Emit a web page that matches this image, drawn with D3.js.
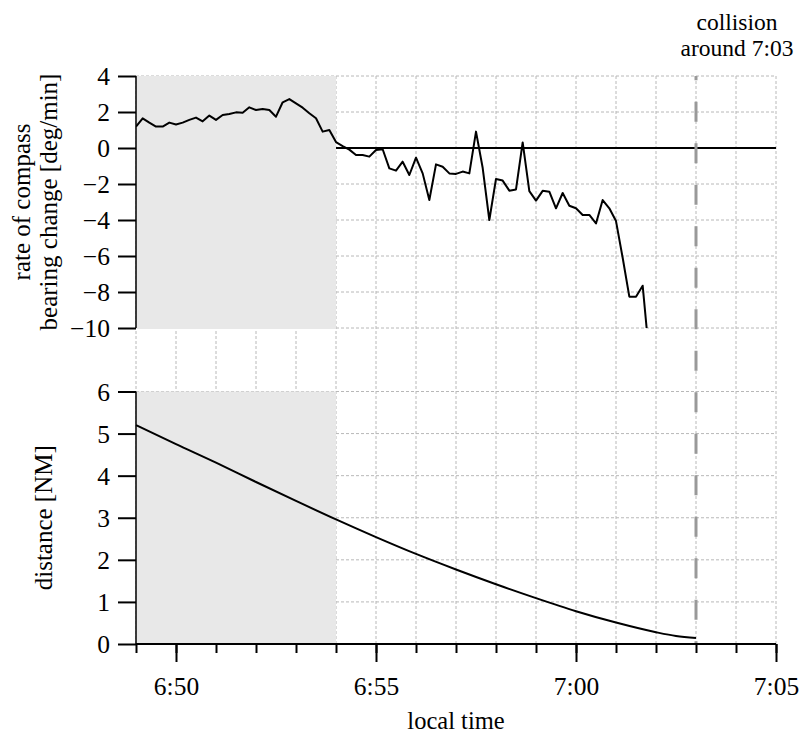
<!DOCTYPE html>
<html>
<head>
<meta charset="utf-8">
<script src="https://cdn.jsdelivr.net/npm/d3@7"></script>
<style>
  body { margin: 0; background: #fff; }
</style>
</head>
<body>
<div id="chart"></div>
<script>
// rate of compass bearing change, one sample every 10 s starting 6:49:00
const rateStart = "06:49:00";
const rateStepSec = 10;
const rateValues = [
  1.19, 1.65, 1.41, 1.19, 1.19, 1.41, 1.31, 1.41, 1.56, 1.69,
  1.48, 1.80, 1.56, 1.83, 1.89, 1.98, 1.96, 2.26, 2.11, 2.17,
  2.11, 1.74, 2.54, 2.72, 2.48, 2.24, 1.93, 1.65, 0.91, 1.00,
  0.33, 0.11, -0.09, -0.39, -0.39, -0.48, -0.11, -0.07, -1.13, -1.26,
  -0.76, -1.50, -0.54, -1.41, -2.89, -0.91, -1.04, -1.41, -1.44, -1.31,
  -1.41, 0.91, -1.10, -4.00, -1.72, -1.81, -2.37, -2.30, 0.31, -2.40,
  -2.92, -2.38, -2.43, -3.35, -2.50, -3.21, -3.35, -3.72, -3.72, -4.19,
  -2.89, -3.35, -4.06, -6.10, -8.26, -8.26, -7.65, -11.6
];

// distance to other vessel
const distTimes = ["06:49", "06:50", "06:51", "06:52", "06:53", "06:54", "06:55", "06:56",
                   "06:57", "06:58", "06:59", "07:00", "07:01", "07:02", "07:02:30", "07:03"];
const distValues = [5.20, 4.75, 4.31, 3.85, 3.40, 2.96, 2.54, 2.14,
                    1.77, 1.42, 1.09, 0.78, 0.51, 0.28, 0.19, 0.14];

const rateTicks = [4, 2, 0, -2, -4, -6, -8, -10];
const distTicks = [0, 1, 2, 3, 4, 5, 6];
const shadeRange = ["06:49", "06:54"];
const collisionTime = "07:03";
const timeDomain = ["06:49", "07:05"];
const collisionLabel = ["collision", "around 7:03"];

const parseT = s => {
  const p = s.split(":").map(Number);
  return new Date(2000, 0, 1, p[0], p[1], p[2] || 0);
};

const W = 801, H = 736;
const left = 136, right = 776;
const top1 = 76, bot1 = 328;
const top2 = 391.5, bot2 = 644;
const FONT = '"Liberation Serif"';

const svg = d3.select("#chart").append("svg")
  .attr("width", W).attr("height", H);

const x = d3.scaleTime().domain(timeDomain.map(parseT)).range([left, right]);
const y1 = d3.scaleLinear().domain([-10, 4]).range([bot1, top1]);
const y2 = d3.scaleLinear().domain([0, 6]).range([bot2, top2]);

const t0 = parseT(rateStart);
const rateData = rateValues.map((v, i) => ({ t: d3.timeSecond.offset(t0, i * rateStepSec), v }));
const distData = distTimes.map((t, i) => ({ t: parseT(t), v: distValues[i] }));

const minutes = d3.timeMinute.range(parseT(timeDomain[0]), d3.timeMinute.offset(parseT(timeDomain[1]), 1));
const gridColor = "#b8b8b8";

// vertical grid, continuous through both panels
svg.append("g").selectAll("line").data(minutes).join("line")
  .attr("x1", d => x(d)).attr("x2", d => x(d))
  .attr("y1", top1).attr("y2", bot2)
  .attr("stroke", gridColor).attr("stroke-width", 1).attr("stroke-dasharray", "3,2");

// horizontal grid
svg.append("g").selectAll("line").data(rateTicks).join("line")
  .attr("x1", left).attr("x2", right)
  .attr("y1", d => y1(d)).attr("y2", d => y1(d))
  .attr("stroke", gridColor).attr("stroke-dasharray", "3,2");
svg.append("g").selectAll("line").data(distTicks.filter(d => d > 0)).join("line")
  .attr("x1", left).attr("x2", right)
  .attr("y1", d => y2(d)).attr("y2", d => y2(d))
  .attr("stroke", gridColor).attr("stroke-dasharray", "3,2");

// zero line
svg.append("line")
  .attr("x1", left).attr("x2", right)
  .attr("y1", y1(0)).attr("y2", y1(0))
  .attr("stroke", "#000").attr("stroke-width", 2);

// shaded period
const sx0 = x(parseT(shadeRange[0])), sx1 = x(parseT(shadeRange[1]));
svg.append("rect").attr("x", sx0).attr("y", top1).attr("width", sx1 - sx0).attr("height", bot1 - top1 + 1)
  .attr("fill", "#e8e8e8");
svg.append("rect").attr("x", sx0).attr("y", top2).attr("width", sx1 - sx0).attr("height", bot2 - top2)
  .attr("fill", "#e8e8e8");

// collision marker
svg.append("line")
  .attr("x1", x(parseT(collisionTime))).attr("x2", x(parseT(collisionTime)))
  .attr("y1", top1).attr("y2", bot2)
  .attr("stroke", "#999").attr("stroke-width", 3)
  .attr("stroke-dasharray", "20,21.5").attr("stroke-dashoffset", 15.8);

svg.append("g").selectAll("text").data(collisionLabel).join("text")
  .attr("x", 737).attr("y", (d, i) => 29.5 + i * 26)
  .attr("text-anchor", "middle").style("font-size", "23.5px")
  .text(d => d);

// clip for rate line
svg.append("clipPath").attr("id", "clip1")
  .append("rect").attr("x", left).attr("y", top1 - 5).attr("width", right - left).attr("height", bot1 - top1 + 5);

svg.append("path").datum(rateData)
  .attr("clip-path", "url(#clip1)")
  .attr("fill", "none").attr("stroke", "#000").attr("stroke-width", 2)
  .attr("stroke-linejoin", "round")
  .attr("d", d3.line().x(d => x(d.t)).y(d => y1(d.v)));

svg.append("path").datum(distData)
  .attr("fill", "none").attr("stroke", "#000").attr("stroke-width", 2)
  .attr("d", d3.line().x(d => x(d.t)).y(d => y2(d.v)).curve(d3.curveMonotoneX));

// axes
function styleAxis(g) {
  g.select(".domain").remove();
  g.selectAll(".tick line").attr("stroke", "#000").attr("stroke-width", 2);
  g.selectAll(".tick text").style("font-size", "25.5px");
}

svg.append("g").attr("transform", `translate(${left},0)`)
  .call(d3.axisLeft(y1).tickValues(rateTicks).tickSize(18).tickPadding(8).tickFormat(d3.format("d")))
  .call(styleAxis)
  .call(g => g.selectAll(".tick text").attr("dy", "0.34em"));
svg.append("g").attr("transform", `translate(${left},0)`)
  .call(d3.axisLeft(y2).tickValues(distTicks).tickSize(18).tickPadding(8).tickFormat(d3.format("d")))
  .call(styleAxis)
  .call(g => g.selectAll(".tick text").attr("dy", "0.34em"));

svg.append("line").attr("x1", left).attr("x2", left).attr("y1", top1).attr("y2", bot1)
  .attr("stroke", "#000").attr("stroke-width", 1.5);
svg.append("line").attr("x1", left).attr("x2", left).attr("y1", top2).attr("y2", bot2)
  .attr("stroke", "#000").attr("stroke-width", 1.5);

const fmt = d3.timeFormat("%-H:%M");
svg.append("g").attr("transform", `translate(0,${bot2})`)
  .call(d3.axisBottom(x).tickValues(minutes).tickSize(9).tickFormat(""))
  .call(styleAxis);
svg.append("g").attr("transform", `translate(0,${bot2})`)
  .call(d3.axisBottom(x).tickValues(minutes.filter(d => d.getMinutes() % 5 === 0)).tickSize(18).tickPadding(15).tickFormat(fmt))
  .call(styleAxis);
svg.append("line").attr("x1", left).attr("x2", right).attr("y1", bot2).attr("y2", bot2)
  .attr("stroke", "#000").attr("stroke-width", 2);

// axis titles
svg.append("text").attr("transform", `translate(30,${(top1 + bot1) / 2}) rotate(-90)`)
  .attr("text-anchor", "middle").style("font-size", "25px").text("rate of compass");
svg.append("text").attr("transform", `translate(57,${(top1 + bot1) / 2}) rotate(-90)`)
  .attr("text-anchor", "middle").style("font-size", "25px").text("bearing change [deg/min]");
svg.append("text").attr("transform", `translate(52,${(top2 + bot2) / 2}) rotate(-90)`)
  .attr("text-anchor", "middle").style("font-size", "25px").text("distance [NM]");
svg.append("text").attr("x", (left + right) / 2).attr("y", 729)
  .attr("text-anchor", "middle").style("font-size", "24.5px").text("local time");

svg.selectAll("text").style("font-family", FONT).style("fill", "#000");
</script>
</body>
</html>
